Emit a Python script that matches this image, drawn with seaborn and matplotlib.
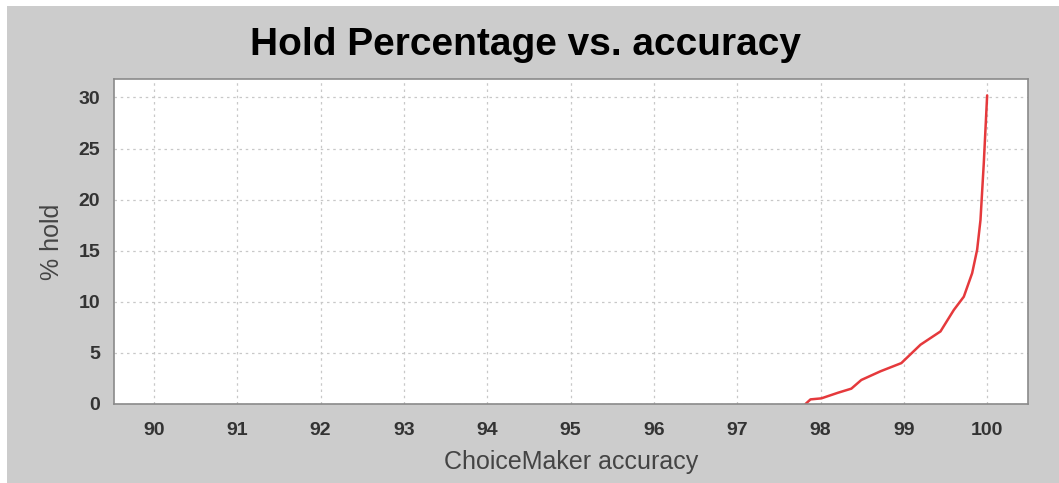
import matplotlib
matplotlib.use("Agg")
import matplotlib.pyplot as plt
import seaborn as sns
import pandas as pd
from matplotlib.patches import Rectangle

# values
accuracy = [97.82, 97.88, 98.01, 98.21, 98.37, 98.49, 98.72, 98.97, 99.20,
            99.44, 99.60, 99.72, 99.82, 99.88, 99.92, 99.96, 100.0]
hold_pct = [0.0, 0.45, 0.55, 1.1, 1.5, 2.35, 3.2, 4.0, 5.8,
            7.1, 9.2, 10.5, 12.8, 15.1, 18.0, 23.6, 30.2]
x_ticks = [90, 91, 92, 93, 94, 95, 96, 97, 98, 99, 100]
y_ticks = [0, 5, 10, 15, 20, 25, 30]

df = pd.DataFrame({"accuracy": accuracy, "hold": hold_pct})

sns.set_style("whitegrid")
plt.rcParams["font.family"] = ["Liberation Sans", "DejaVu Sans"]

fig = plt.figure(figsize=(10.59, 4.83), dpi=100, facecolor="white")
# gray panel with thin white strip on top and left
fig.patches.append(Rectangle((7 / 1059, 0), 1, 1 - 6 / 483, transform=fig.transFigure,
                             facecolor="#cccccc", edgecolor="none", zorder=-10))
ax = fig.add_axes([0.1076, 0.1636, 0.8631, 0.6728])
ax.set_facecolor("white")

sns.lineplot(data=df, x="accuracy", y="hold", ax=ax, color="#e5393c", linewidth=1.8)

ax.set_xlim(89.52, 100.49)
ax.set_ylim(0, 31.8)
ax.set_xticks(x_ticks)
ax.set_yticks(y_ticks)
ax.grid(True, color="#c8c8c8", linestyle=(0, (2, 3)), linewidth=0.9)
for s in ax.spines.values():
    s.set_color("#8a8a8a")
    s.set_linewidth(1.2)
ax.tick_params(axis="both", direction="out", length=4, width=1, color="#8a8a8a",
               labelsize=14, labelcolor="#333333")
ax.tick_params(axis="x", pad=9)
ax.tick_params(axis="y", pad=6)
for lab in ax.get_xticklabels() + ax.get_yticklabels():
    lab.set_fontweight("bold")

ax.set_xlabel("ChoiceMaker accuracy", fontsize=18, color="#444444", labelpad=8)
ax.set_ylabel("% hold", fontsize=18, color="#444444", labelpad=10)
fig.suptitle("Hold Percentage vs. accuracy", fontsize=28, fontweight="bold",
             color="black", x=0.496, y=0.945)

fig.savefig("out.png", dpi=100, facecolor=fig.get_facecolor())
